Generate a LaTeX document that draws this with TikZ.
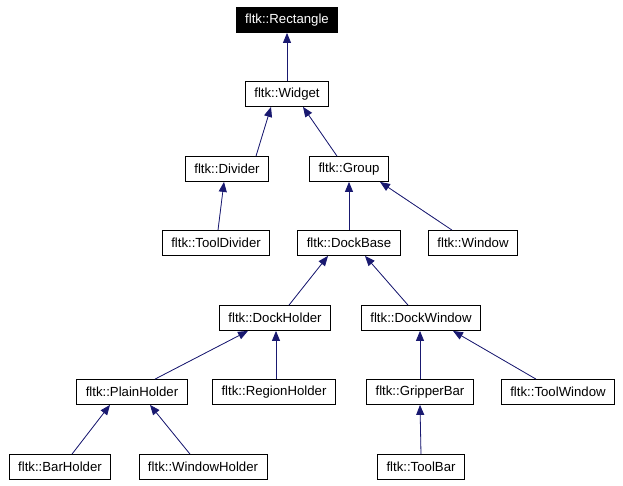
\documentclass[tikz,border=0pt]{standalone}
\usepackage{fontspec}
\setmainfont{Liberation Sans}
\usepackage{tikz}
\usetikzlibrary{arrows.meta}
\tikzset{>={Triangle[length=10pt,width=8pt]}}
\definecolor{edgeblue}{HTML}{191970}
\tikzset{
  cls/.style={draw=black,line width=0.8pt,fill=white,minimum height=25pt,inner xsep=9pt,inner ysep=0pt,font=\fontsize{13.2}{15}\selectfont},
  root/.style={cls,fill=black,text=white},
  inh/.style={<-,draw=edgeblue,fill=edgeblue,line width=0.8pt}
}

\begin{document}
\begin{tikzpicture}[x=1pt,y=-1pt]
    \useasboundingbox (0,0) rectangle (623,485);
    \node[root] (rect) at (287,20) {fltk::Rectangle};
    \node[cls] (widget) at (287,94) {fltk::Widget};
    \node[cls] (divider) at (227,169) {fltk::Divider};
    \node[cls] (group) at (349,169) {fltk::Group};
    \node[cls] (tooldivider) at (216,243) {fltk::ToolDivider};
    \node[cls] (dockbase) at (349,243) {fltk::DockBase};
    \node[cls] (window) at (473,243) {fltk::Window};
    \node[cls] (dockholder) at (275,318) {fltk::DockHolder};
    \node[cls] (dockwindow) at (421,318) {fltk::DockWindow};
    \node[cls] (plainholder) at (132,392) {fltk::PlainHolder};
    \node[cls] (regionholder) at (274,392) {fltk::RegionHolder};
    \node[cls] (gripperbar) at (420,392) {fltk::GripperBar};
    \node[cls] (toolwindow) at (558,392) {fltk::ToolWindow};
    \node[cls] (barholder) at (60,467) {fltk::BarHolder};
    \node[cls] (windowholder) at (203,467) {fltk::WindowHolder};
    \node[cls] (toolbar) at (421,467) {fltk::ToolBar};
    % parent/shift <- child/shift
    \foreach \p/\ps/\c/\cs in {rect/0/widget/0, widget/-16/divider/29, widget/16/group/-12,
        divider/-3/tooldivider/2, group/0/dockbase/0, group/31/window/-21,
        dockbase/-21/dockholder/14, dockbase/16/dockwindow/-13,
        dockholder/-27/plainholder/23, dockholder/1/regionholder/2,
        dockwindow/-1/gripperbar/0, dockwindow/32/toolwindow/-22,
        plainholder/-22/barholder/12, plainholder/18/windowholder/-13,
        gripperbar/0/toolbar/0} {
      \draw[inh] ([xshift=\ps pt]\p.south) -- ([xshift=\cs pt]\c.north);
    }
\end{tikzpicture}
\end{document}
